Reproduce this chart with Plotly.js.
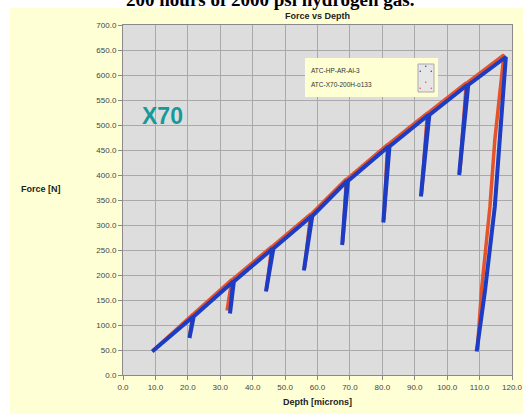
<!DOCTYPE html>
<html>
<head>
<meta charset="utf-8">
<script src="https://cdn.plot.ly/plotly-3.0.1.min.js"></script>
<style>html,body{margin:0;padding:0;background:#fff;}#chart{width:523px;height:414px;}</style>
</head>
<body>
<div id="chart"></div>
<script>
// Series: ATC-HP-AR-Al-3 (red)
var redName = "ATC-HP-AR-Al-3";
var redDepth = [9.3, 21.5, 20.6, 21.6, 33.6, 32.1, 33.8, 45.9, 44.3, 46.1, 57.9, 56.0, 58.1, 68.9, 67.8, 69.1, 81.6, 80.5, 81.8, 93.9, 92.1, 94.1, 105.9, 103.9, 106.1, 117.5, 114.7, 113.2, 110.6, 109.3];
var redForce = [49, 121, 80, 121, 191, 129, 191, 257, 172, 257, 322, 214, 322, 392, 265, 392, 461, 310, 461, 524, 362, 524, 584, 405, 584, 640, 470, 337, 170, 50];

// Series: ATC-X70-200H-o133 (blue)
var blueName = "ATC-X70-200H-o133";
var blueDepth = [9.0, 21.7, 20.5, 21.8, 34.0, 33.0, 34.2, 46.2, 44.1, 46.4, 58.2, 55.8, 58.4, 69.1, 67.6, 69.4, 81.9, 80.3, 82.2, 94.2, 91.9, 94.5, 106.2, 103.7, 106.5, 118.1, 116.1, 114.7, 111.7, 109.1];
var blueForce = [47, 117, 74, 117, 187, 123, 187, 253, 167, 253, 318, 209, 318, 388, 260, 388, 457, 305, 457, 520, 357, 520, 580, 400, 580, 636, 470, 337, 170, 47];

// Axis ticks
var xTicks = [0, 10, 20, 30, 40, 50, 60, 70, 80, 90, 100, 110, 120];
var yTicks = [0, 50, 100, 150, 200, 250, 300, 350, 400, 450, 500, 550, 600, 650, 700];

var W = 523, H = 414, L = 123, R = 11, T = 25, B = 39;
var pw = W - L - R, ph = H - T - B;
function px(x){ return (x - L) / pw; }
function py(y){ return (H - B - y) / ph; }

var traces = [
  {x: redDepth, y: redForce, name: redName, mode: 'lines', line: {color: '#e4532a', width: 3.5}, showlegend: false},
  {x: blueDepth, y: blueForce, name: blueName, mode: 'lines', line: {color: '#1c3cc4', width: 4}, showlegend: false}
];

var yellow = '#ffffd6';
var layout = {
  width: W, height: H,
  margin: {l: L, r: R, t: T, b: B, pad: 0},
  paper_bgcolor: yellow,
  plot_bgcolor: '#dddddd',
  font: {family: 'Arial, Liberation Sans, sans-serif', color: '#444', size: 8},
  title: {text: '<b>Force vs Depth</b>', font: {size: 9, color: '#222'}, xref: 'paper', x: 0.5, xanchor: 'center', yref: 'container', y: 1 - 16/H, yanchor: 'middle'},
  xaxis: {
    range: [0, 120], tickvals: xTicks, tickformat: '.1f',
    showgrid: true, gridcolor: '#a9a9a9', gridwidth: 1,
    zeroline: false, showline: true, linecolor: '#8a8a8a', mirror: true,
    ticks: 'outside', ticklen: 4, tickcolor: '#888',
    tickfont: {size: 8, color: '#444'},
    title: {text: '<b>Depth [microns]</b>', font: {size: 9, color: '#222'}, standoff: 8}
  },
  yaxis: {
    range: [0, 700], tickvals: yTicks, tickformat: '.1f',
    showgrid: true, gridcolor: '#a9a9a9', gridwidth: 1,
    zeroline: false, showline: true, linecolor: '#8a8a8a', mirror: true,
    ticks: 'outside', ticklen: 4, tickcolor: '#888',
    tickfont: {size: 8, color: '#444'}
  },
  shapes: [
    {type: 'rect', xref: 'paper', yref: 'paper', x0: px(0), x1: px(10), y0: py(H), y1: py(0), fillcolor: '#ffffff', line: {width: 0}},
    {type: 'rect', xref: 'paper', yref: 'paper', x0: px(0), x1: px(W), y0: py(8), y1: py(0), fillcolor: '#ffffff', line: {width: 0}},
    {type: 'rect', xref: 'paper', yref: 'paper', x0: px(305), x1: px(438), y0: py(97), y1: py(58), fillcolor: '#ffffd4', line: {width: 0}},
    {type: 'rect', xref: 'paper', yref: 'paper', x0: px(418), x1: px(434), y0: py(92), y1: py(64), fillcolor: '#e6e6e6', line: {width: 1, color: '#aaa'}},
    {type: 'circle', xref: 'paper', yref: 'paper', x0: px(419.5), x1: px(421), y0: py(72), y1: py(70.5), fillcolor: '#1c3cc4', line: {width: 0}},
    {type: 'circle', xref: 'paper', yref: 'paper', x0: px(430.5), x1: px(432), y0: py(72), y1: py(70.5), fillcolor: '#1c3cc4', line: {width: 0}},
    {type: 'circle', xref: 'paper', yref: 'paper', x0: px(425), x1: px(426.5), y0: py(67), y1: py(65.5), fillcolor: '#1c3cc4', line: {width: 0}},
    {type: 'circle', xref: 'paper', yref: 'paper', x0: px(425), x1: px(426.5), y0: py(83), y1: py(81.5), fillcolor: '#e4532a', line: {width: 0}},
    {type: 'circle', xref: 'paper', yref: 'paper', x0: px(419.5), x1: px(421), y0: py(89), y1: py(87.5), fillcolor: '#e4532a', line: {width: 0}},
    {type: 'circle', xref: 'paper', yref: 'paper', x0: px(430.5), x1: px(432), y0: py(89), y1: py(87.5), fillcolor: '#e4532a', line: {width: 0}}
  ],
  annotations: [
    {text: '<b>200 hours of 2000 psi hydrogen gas.</b>', xref: 'paper', yref: 'paper', x: px(270), y: py(-1), xanchor: 'center', yanchor: 'middle', showarrow: false, font: {family: 'Liberation Serif, Times New Roman, serif', size: 19, color: '#000'}},
    {text: '<b>Force [N]</b>', xref: 'paper', yref: 'paper', x: px(41), y: py(189), xanchor: 'center', yanchor: 'middle', showarrow: false, font: {size: 9, color: '#222'}},
    {text: '<b>X70</b>', xref: 'paper', yref: 'paper', x: px(162), y: py(116), xanchor: 'center', yanchor: 'middle', showarrow: false, font: {size: 23, color: '#17999b'}},
    {text: redName, xref: 'paper', yref: 'paper', x: px(309), y: py(70), xanchor: 'left', yanchor: 'middle', showarrow: false, font: {size: 6.5, color: '#333'}},
    {text: blueName, xref: 'paper', yref: 'paper', x: px(309), y: py(85), xanchor: 'left', yanchor: 'middle', showarrow: false, font: {size: 6.5, color: '#333'}}
  ]
};

Plotly.newPlot('chart', traces, layout, {displayModeBar: false, staticPlot: true});
</script>
</body>
</html>
